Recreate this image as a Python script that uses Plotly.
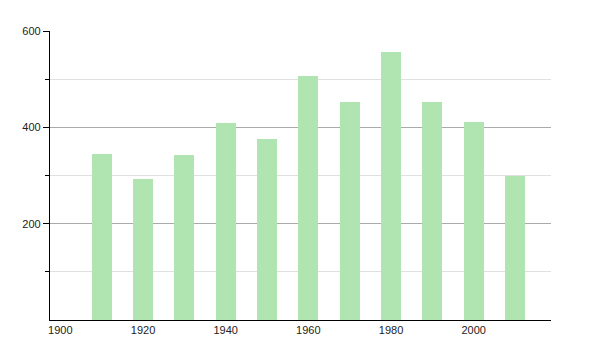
import plotly.graph_objects as go

years = [1910, 1920, 1930, 1940, 1950, 1960, 1970, 1980, 1990, 2000, 2010]
values = [344, 292, 342, 410, 375, 506, 453, 557, 453, 412, 300]
x_ticks = [1900, 1920, 1940, 1960, 1980, 2000]
y_ticks = [200, 400, 600]

fig = go.Figure(go.Bar(
    x=years, y=values, width=4.9,
    marker=dict(color="rgb(176,228,176)", line=dict(width=0)),
))

fig.update_layout(
    width=600, height=350,
    margin=dict(l=50, r=49, t=31, b=30),
    paper_bgcolor="white", plot_bgcolor="white",
    showlegend=False,
    font=dict(family="Liberation Sans, Arial, sans-serif", size=11, color="#222"),
    bargap=0,
)
fig.update_xaxes(
    range=[1897.5, 2018.7],
    tickmode="array", tickvals=x_ticks, ticktext=[str(v) for v in x_ticks],
    showline=True, linecolor="black", linewidth=1.2,
    showgrid=False, zeroline=False, ticks="", ticklen=0,
)
fig.update_yaxes(
    range=[0, 600],
    tickmode="array", tickvals=y_ticks, ticktext=[str(v) for v in y_ticks],
    showline=True, linecolor="black", linewidth=1.2,
    showgrid=True, gridcolor="#aaaaaa", gridwidth=1,
    zeroline=False, ticks="outside", ticklen=6, tickcolor="black",
    minor=dict(tickvals=[100, 300, 500], showgrid=True, gridcolor="#e0e0e0",
               ticks="outside", ticklen=4, tickcolor="black"),
)

fig.write_html("out.html")
